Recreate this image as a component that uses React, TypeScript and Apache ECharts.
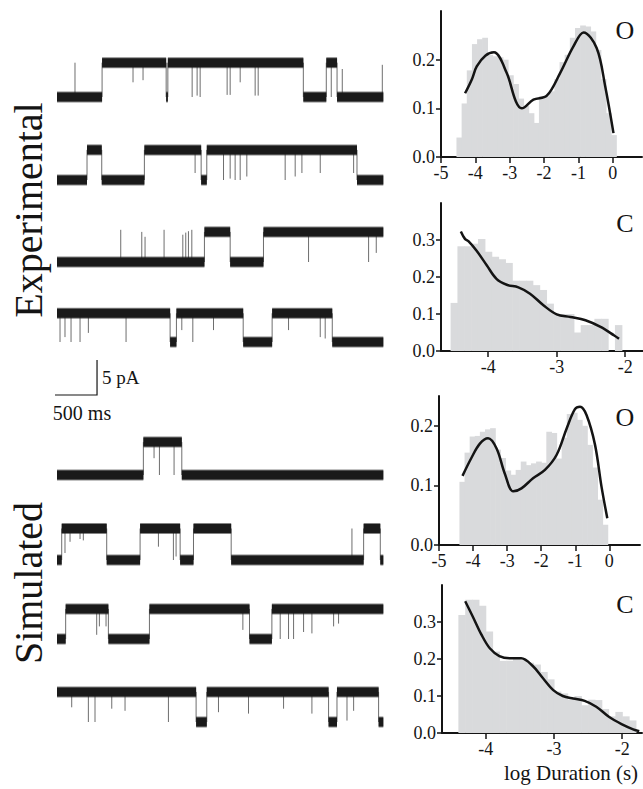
import React, { useEffect, useRef } from "react";
import * as echarts from "echarts";

// ---------- Trace data (time in ms, current in pA) ----------
const trace1Segments = [[0, 536, 0], [536, 1298, 4.9], [1298, 1318, 0], [1318, 2929, 4.9], [2929, 3202, 0], [3202, 3330, 4.9], [3330, 3880, 0]];
const trace1Spikes = [[214, 0, 4.9], [904, 4.9, 2.1], [1023, 4.9, 2.4], [1607, 4.9, 0], [1666, 4.9, 0.2], [1702, 4.9, 0], [2023, 4.9, 0.3], [2059, 4.9, 0.3], [2178, 4.9, 2.1], [2356, 4.9, 0.2], [2392, 4.9, 0.2], [3261, 4.9, 0], [3392, 0, 4.0], [3868, 0, 4.6]];

const trace2Segments = [[0, 357, 0], [357, 532, 4.3], [532, 1039, 0], [1039, 1714, 4.3], [1714, 1781, 0], [1781, 3567, 4.3], [3567, 3880, 0]];
const trace2Spikes = [[1642, 4.3, 1.0], [1980, 4.3, 0], [2059, 4.3, 0.2], [2118, 4.3, 0], [2178, 4.3, 0], [2257, 4.3, 0.5], [2713, 4.3, 0], [2832, 4.3, 0.5], [2912, 4.3, 1.0], [3130, 4.3, 1.0], [3527, 4.3, 1.0]];

const trace3Segments = [[0, 1753, 0], [1753, 2059, 4.3], [2059, 2455, 0], [2455, 3880, 4.3]];
const trace3Spikes = [[758, 0, 4.6], [1008, 0, 4.3], [1047, 0, 3.6], [1273, 0, 4.6], [1496, 0, 3.9], [1531, 0, 4.2], [1563, 0, 4.4], [1603, 0, 4.6], [2991, 4.3, 0], [3705, 4.3, 0], [3796, 4.3, 1.3]];

const trace4Segments = [[0, 1345, 4.1], [1345, 1420, 0], [1420, 2214, 4.1], [2214, 2558, 0], [2558, 3273, 4.1], [3273, 3880, 0]];
const trace4Spikes = [[36, 4.1, 0], [95, 4.1, 0.7], [167, 4.1, 0], [274, 4.1, 0], [373, 4.1, 1.3], [821, 4.1, 0], [1484, 4.1, 1.7], [1615, 4.1, 0], [1861, 4.1, 1.7], [2753, 4.1, 1.7], [3130, 4.1, 0.7], [3189, 4.1, 0.5]];

const trace5Segments = [[0, 1027, 0], [1027, 1484, 4.7], [1484, 3880, 0]];
const trace5Spikes = [[1154, 4.7, 2.4], [1218, 4.7, 0], [1392, 4.7, 0]];

const trace6Segments = [[0, 56, 0], [56, 591, 4.5], [591, 988, 0], [988, 1464, 4.5], [1464, 1623, 0], [1623, 2071, 4.5], [2071, 3646, 0], [3646, 3844, 4.5], [3844, 3880, 0]];
const trace6Spikes = [[95, 4.5, 1.0], [155, 4.5, 2.6], [274, 4.5, 3.0], [313, 4.5, 2.8], [1206, 4.5, 1.9], [1384, 4.5, 0], [1416, 4.5, 0.5], [3507, 0, 4.5]];

const trace7Segments = [[0, 103, 0], [103, 611, 4.3], [611, 1099, 0], [1099, 2289, 4.3], [2289, 2555, 0], [2555, 3880, 4.3]];
const trace7Spikes = [[472, 4.3, 0.6], [504, 4.3, 1.8], [583, 4.3, 1.8], [2210, 4.3, 1.3], [2654, 4.3, 0], [2753, 4.3, 0], [2813, 4.3, 0], [2932, 4.3, 1.0], [3031, 4.3, 0.8], [3289, 4.3, 1.8], [3348, 4.3, 2.2]];

const trace8Segments = [[0, 1654, 4.3], [1654, 1781, 0], [1781, 3229, 4.3], [3229, 3329, 0], [3329, 3824, 4.3], [3824, 3880, 0]];
const trace8Spikes = [[175, 4.3, 2.1], [373, 4.3, 0], [452, 4.3, 0], [651, 4.3, 1.9], [809, 4.3, 1.6], [1325, 4.3, 0], [1920, 4.3, 1.4], [2277, 4.3, 1.2], [2694, 4.3, 1.9], [3031, 4.3, 1.2], [3448, 4.3, 0.2], [3527, 4.3, 1.6]];

const scaleBarMs = 500;
const scaleBarPA = 5;
const scaleBarCorner = [476, -7.57]; // in trace-4 axis units

// ---------- Histogram data (log duration, fraction) ----------
const expOBinStart = -4.55;
const expOBinWidth = 0.15;
const expOHeights = [0.04, 0.11, 0.178, 0.232, 0.242, 0.245, 0.21, 0.207, 0.205, 0.2, 0.168, 0.15, 0.12, 0.105, 0.09, 0.07, 0.125, 0.125, 0.135, 0.16, 0.195, 0.21, 0.245, 0.265, 0.27, 0.268, 0.258, 0.22, 0.16, 0.09, 0.045];
const expOFitX = [-4.3, -4.1, -3.96, -3.71, -3.46, -3.09, -2.82, -2.65, -2.31, -1.92, -1.53, -1.15, -0.85, -0.47, -0.22, 0.02];
const expOFitY = [0.131, 0.16, 0.186, 0.208, 0.215, 0.173, 0.114, 0.1, 0.118, 0.126, 0.173, 0.227, 0.256, 0.224, 0.145, 0.049];

const expCBinStart = -4.55;
const expCBinWidth = 0.1;
const expCHeights = [0.13, 0.283, 0.283, 0.29, 0.303, 0.268, 0.255, 0.248, 0.238, 0.19, 0.19, 0.19, 0.178, 0.165, 0.128, 0.1, 0.1, 0.1, 0.05, 0.07, 0.07, 0.087, 0.087, 0, 0.07];
const expCFitX = [-4.4, -4.34, -4.29, -4.17, -4.02, -3.88, -3.73, -3.56, -3.39, -3.19, -3.0, -2.8, -2.58, -2.36, -2.16, -2.09];
const expCFitY = [0.323, 0.303, 0.297, 0.271, 0.231, 0.195, 0.179, 0.172, 0.155, 0.123, 0.099, 0.092, 0.083, 0.065, 0.042, 0.033];

const simOBinStart = -4.4;
const simOBinWidth = 0.15;
const simOHeights = [0.106, 0.155, 0.182, 0.183, 0.19, 0.194, 0.196, 0.16, 0.146, 0.125, 0.118, 0.126, 0.14, 0.134, 0.137, 0.14, 0.138, 0.19, 0.188, 0.145, 0.18, 0.22, 0.222, 0.21, 0.2, 0.168, 0.13, 0.076, 0.034];
const simOFitX = [-4.31, -4.05, -3.8, -3.56, -3.31, -3.07, -2.82, -2.58, -2.24, -1.89, -1.55, -1.25, -1.01, -0.86, -0.67, -0.42, -0.23, -0.06];
const simOFitY = [0.116, 0.146, 0.17, 0.179, 0.162, 0.12, 0.09, 0.095, 0.112, 0.126, 0.151, 0.196, 0.228, 0.232, 0.218, 0.168, 0.098, 0.045];

const simCBinStart = -4.4;
const simCBinWidth = 0.1;
const simCHeights = [0.319, 0.36, 0.36, 0.344, 0.274, 0.22, 0.195, 0.195, 0.2, 0.197, 0.19, 0.185, 0.165, 0.145, 0.112, 0.107, 0.09, 0.1, 0.075, 0.09, 0.089, 0.065, 0.045, 0.057, 0.045, 0.034];
const simCFitX = [-4.3, -4.19, -4.06, -3.94, -3.8, -3.65, -3.48, -3.31, -3.16, -3.01, -2.87, -2.72, -2.55, -2.38, -2.19, -2.01, -1.84, -1.75];
const simCFitY = [0.356, 0.315, 0.265, 0.229, 0.208, 0.202, 0.202, 0.181, 0.148, 0.116, 0.1, 0.093, 0.087, 0.071, 0.043, 0.024, 0.01, 0.005];

const oTicks = [-5, -4, -3, -2, -1, 0];
const cTicks = [-4, -3, -2];
const oYTicks = [0, 0.1, 0.2];
const cYTicks = [0, 0.1, 0.2, 0.3];

// ---------- Layout ----------
const SERIF = "'Liberation Serif', 'DejaVu Serif', serif";
const INK = "#141414";
const traceBaseY = [97, 180, 262, 342, 475, 560, 639, 722];
const PX_PER_PA = 7;

const traces = [
  [trace1Segments, trace1Spikes], [trace2Segments, trace2Spikes], [trace3Segments, trace3Spikes], [trace4Segments, trace4Spikes],
  [trace5Segments, trace5Spikes], [trace6Segments, trace6Spikes], [trace7Segments, trace7Spikes], [trace8Segments, trace8Spikes],
];

const hists = [
  { start: expOBinStart, w: expOBinWidth, h: expOHeights, fx: expOFitX, fy: expOFitY, grid: { left: 441, top: 11, width: 201, height: 146 }, x: [-5, 0.85], y: [0, 0.3], xt: oTicks, yt: oYTicks },
  { start: expCBinStart, w: expCBinWidth, h: expCHeights, fx: expCFitX, fy: expCFitY, grid: { left: 441, top: 203, width: 202, height: 148 }, x: [-4.69, -1.74], y: [0, 0.4], xt: cTicks, yt: cYTicks },
  { start: simOBinStart, w: simOBinWidth, h: simOHeights, fx: simOFitX, fy: simOFitY, grid: { left: 439, top: 396, width: 201, height: 149 }, x: [-5, 0.9], y: [0, 0.25], xt: oTicks, yt: oYTicks },
  { start: simCBinStart, w: simCBinWidth, h: simCHeights, fx: simCFitX, fy: simCFitY, grid: { left: 442, top: 585, width: 200, height: 148 }, x: [-4.64, -1.71], y: [0, 0.4], xt: cTicks, yt: cYTicks },
];

function buildOption() {
  const grid: any[] = [];
  const xAxis: any[] = [];
  const yAxis: any[] = [];
  const series: any[] = [];

  const segRender = (_p: any, api: any) => {
    const a = api.coord([api.value(0), api.value(2)]);
    const b = api.coord([api.value(1), api.value(2)]);
    return {
      type: "group",
      children: [
        { type: "rect", shape: { x: a[0], y: a[1] - 5.5, width: Math.max(1, b[0] - a[0]), height: 11 }, style: { fill: "rgba(30,30,30,0.55)" } },
        { type: "rect", shape: { x: a[0], y: a[1] - 4.5, width: Math.max(1, b[0] - a[0]), height: 9 }, style: { fill: "#1a1a1a" } },
      ],
    };
  };
  const vRender = (_p: any, api: any) => {
    const a = api.coord([api.value(0), api.value(1)]);
    const b = api.coord([api.value(0), api.value(2)]);
    return { type: "line", shape: { x1: a[0], y1: a[1], x2: b[0], y2: b[1] }, style: { stroke: "#6e6e6e", lineWidth: 1 } };
  };

  traces.forEach(([segs, spikes], i) => {
    grid.push({ left: 57, width: 328, top: traceBaseY[i] - 6 * PX_PER_PA, height: 9 * PX_PER_PA });
    xAxis.push({ gridIndex: i, type: "value", min: 0, max: 3900, show: false });
    yAxis.push({ gridIndex: i, type: "value", min: -3, max: 6, show: false });
    const transitions = segs.slice(1).map((s: number[], k: number) => [s[0], segs[k][2], s[2]]);
    series.push({ type: "custom", xAxisIndex: i, yAxisIndex: i, data: transitions.concat(spikes), renderItem: vRender, clip: false, silent: true });
    series.push({ type: "custom", xAxisIndex: i, yAxisIndex: i, data: segs, renderItem: segRender, clip: false, silent: true, z: 3 });
  });

  // scale bar tied to trace-4 axes
  series.push({
    type: "custom", xAxisIndex: 3, yAxisIndex: 3, clip: false, silent: true,
    data: [[scaleBarCorner[0], scaleBarCorner[1], scaleBarMs, scaleBarPA]],
    renderItem: (_p: any, api: any) => {
      const t = api.value(0), v = api.value(1), dt = api.value(2), dv = api.value(3);
      const a = api.coord([t - dt, v]);
      const c = api.coord([t, v]);
      const b = api.coord([t, v + dv]);
      return { type: "polyline", shape: { points: [a, c, b] }, style: { stroke: INK, lineWidth: 1.2, fill: "none" } };
    },
  });

  hists.forEach((h, k) => {
    const gi = 8 + k;
    grid.push(h.grid);
    const axisCommon = {
      axisLine: { show: true, onZero: false, lineStyle: { color: INK, width: 2 } },
      axisTick: { show: true, length: 6, lineStyle: { color: INK, width: 1.5 } },
      splitLine: { show: false },
    };
    xAxis.push({
      gridIndex: gi, type: "value", min: h.x[0], max: h.x[1], ...axisCommon,
      axisTick: { ...axisCommon.axisTick, customValues: h.xt },
      axisLabel: { customValues: h.xt, fontFamily: SERIF, fontSize: 18, color: INK, margin: 7, formatter: (v: number) => String(Math.round(v)) },
    });
    yAxis.push({
      gridIndex: gi, type: "value", min: h.y[0], max: h.y[1], ...axisCommon,
      axisTick: { ...axisCommon.axisTick, length: 5, customValues: h.yt },
      axisLabel: { customValues: h.yt, fontFamily: SERIF, fontSize: 18, color: INK, margin: 6, formatter: (v: number) => v.toFixed(1) },
    });
    const bins = h.h.map((v, i) => [h.start + i * h.w, h.start + (i + 1) * h.w, v]);
    series.push({
      type: "custom", xAxisIndex: gi, yAxisIndex: gi, data: bins, silent: true, z: 1,
      renderItem: (_p: any, api: any) => {
        const a = api.coord([api.value(0), api.value(2)]);
        const b = api.coord([api.value(1), 0]);
        return { type: "rect", shape: { x: a[0], y: a[1], width: b[0] - a[0] + 0.6, height: b[1] - a[1] }, style: { fill: "#d9dadc" } };
      },
    });
    series.push({
      type: "line", xAxisIndex: gi, yAxisIndex: gi, data: h.fx.map((x, i) => [x, h.fy[i]]),
      smooth: 0.35, showSymbol: false, silent: true, z: 4,
      lineStyle: { color: INK, width: 2.5 },
    });
  });

  const txt = (text: string, x: number, y: number, size: number, extra: any = {}) => ({
    type: "text", x, y, silent: true,
    style: { text, fontFamily: SERIF, fontSize: size, fill: INK, align: "center", verticalAlign: "middle", ...extra },
  });

  const graphic = [
    txt("O", 625, 30, 26),
    txt("C", 625, 223, 26),
    txt("O", 625, 417, 26),
    txt("C", 625, 604, 26),
    txt("log Duration (s)", 571, 773, 21),
    { ...txt("Experimental", 0, 0, 40), x: 28, y: 210, rotation: Math.PI / 2 },
    { ...txt("Simulated", 0, 0, 40), x: 28, y: 583, rotation: Math.PI / 2 },
    txt("5 pA", 102, 377, 19, { align: "left" }),
    txt("500 ms", 82, 413, 20),
  ];

  return { animation: false, backgroundColor: "#ffffff", grid, xAxis, yAxis, series, graphic };
}

export default function App() {
  const ref = useRef<HTMLDivElement>(null);
  useEffect(() => {
    if (!ref.current) return;
    const chart = echarts.init(ref.current, undefined, { renderer: "svg" });
    chart.setOption(buildOption() as any);
    return () => chart.dispose();
  }, []);
  return <div ref={ref} style={{ position: "absolute", left: 0, top: 0, width: 643, height: 789 }} />;
}
